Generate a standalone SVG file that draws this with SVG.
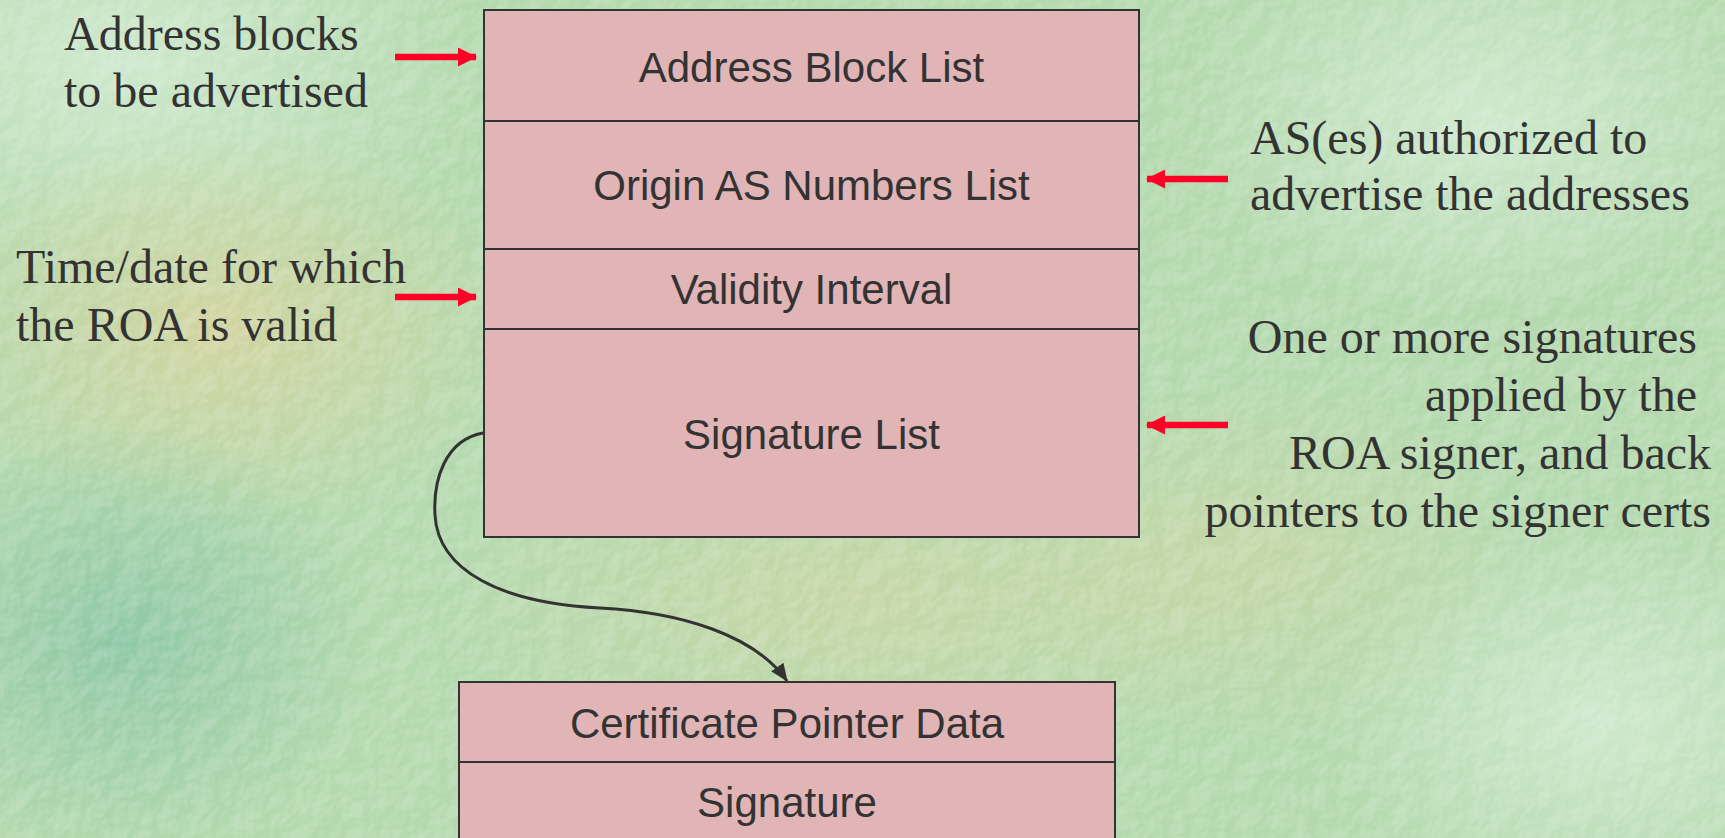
<svg xmlns="http://www.w3.org/2000/svg" width="1725" height="838" viewBox="0 0 1725 838">
  <defs>
    <style>
      .box { fill: #e1b4b6; stroke: #333333; stroke-width: 2; }
      .div { stroke: #333333; stroke-width: 2; }
      .field { font-family: "Liberation Sans", Arial, sans-serif; font-size: 42px; fill: #333333; text-anchor: middle; }
      .note { font-family: "Liberation Serif", "Times New Roman", serif; font-size: 48px; fill: #333333; }
      .pointer { stroke: #ff0026; stroke-width: 6.5; fill: none; }
      .link { stroke: #333333; stroke-width: 3; fill: none; }
    </style>
    <marker id="redHead" viewBox="0 0 19 19" refX="18" refY="9.5" markerUnits="userSpaceOnUse" markerWidth="19" markerHeight="19" orient="auto">
      <path d="M0,0 L19,9.5 L0,19 Z" fill="#ff0026"/>
    </marker>
    <marker id="darkHead" viewBox="0 0 18 15" refX="17" refY="7.5" markerUnits="userSpaceOnUse" markerWidth="18" markerHeight="15" orient="auto">
      <path d="M0,0 L18,7.5 L0,15 Z" fill="#333333"/>
    </marker>
    <radialGradient id="tan" cx="0.5" cy="0.5" r="0.5">
      <stop offset="0" stop-color="#d9d39c" stop-opacity="0.8"/>
      <stop offset="1" stop-color="#d9d39c" stop-opacity="0"/>
    </radialGradient>
    <radialGradient id="teal" cx="0.5" cy="0.5" r="0.5">
      <stop offset="0" stop-color="#86c4a4" stop-opacity="0.8"/>
      <stop offset="1" stop-color="#86c4a4" stop-opacity="0"/>
    </radialGradient>
    <radialGradient id="pale" cx="0.5" cy="0.5" r="0.5">
      <stop offset="0" stop-color="#d4ecd4" stop-opacity="0.8"/>
      <stop offset="1" stop-color="#d4ecd4" stop-opacity="0"/>
    </radialGradient>
    <filter id="grain" x="0" y="0" width="100%" height="100%">
      <feTurbulence type="fractalNoise" baseFrequency="0.045" numOctaves="3" seed="7" result="n"/>
      <feDiffuseLighting in="n" surfaceScale="4" lighting-color="#ffffff" result="lit">
        <feDistantLight azimuth="225" elevation="50"/>
      </feDiffuseLighting>
      <feColorMatrix in="lit" type="matrix" values="0 0 0 0 1  0 0 0 0 1  0 0 0 0 1  1 0 0 0 -0.6"/>
    </filter>
  </defs>

  <!-- backdrop -->
  <g id="backdrop">
    <rect width="1725" height="838" fill="#b4d9ae"/>
    <ellipse cx="120" cy="60" rx="360" ry="220" fill="url(#pale)"/>
    <ellipse cx="220" cy="330" rx="300" ry="200" fill="url(#tan)"/>
    <ellipse cx="120" cy="640" rx="260" ry="220" fill="url(#teal)"/>
    <ellipse cx="860" cy="600" rx="420" ry="180" fill="url(#tan)" opacity="0.6"/>
    <ellipse cx="1480" cy="120" rx="300" ry="200" fill="url(#pale)"/>
    <ellipse cx="1600" cy="720" rx="280" ry="200" fill="url(#pale)"/>
    <ellipse cx="1250" cy="560" rx="260" ry="180" fill="url(#tan)" opacity="0.5"/>
    <rect width="1725" height="838" filter="url(#grain)" opacity="0.5"/>
  </g>

  <!-- route origin attestation fields -->
  <g id="roa">
    <rect class="box" x="484" y="10" width="655" height="527"/>
    <line class="div" x1="484" y1="121" x2="1139" y2="121"/>
    <line class="div" x1="484" y1="249" x2="1139" y2="249"/>
    <line class="div" x1="484" y1="329" x2="1139" y2="329"/>
    <text class="field" x="811.5" y="82">Address Block List</text>
    <text class="field" x="811.5" y="200">Origin AS Numbers List</text>
    <text class="field" x="811.5" y="304">Validity Interval</text>
    <text class="field" x="811.5" y="449">Signature List</text>
  </g>

  <!-- signature entry -->
  <g id="signature-entry">
    <rect class="box" x="459" y="682" width="656" height="170"/>
    <line class="div" x1="459" y1="762" x2="1115" y2="762"/>
    <text class="field" x="787" y="738">Certificate Pointer Data</text>
    <text class="field" x="787" y="817">Signature</text>
  </g>

  <!-- annotations -->
  <g id="note-address">
    <text class="note" x="64" y="50">Address blocks</text>
    <text class="note" x="64" y="107">to be advertised</text>
  </g>
  <g id="note-validity">
    <text class="note" x="16" y="283">Time/date for which</text>
    <text class="note" x="16" y="341">the ROA is valid</text>
  </g>
  <g id="note-origin">
    <text class="note" x="1250" y="154">AS(es) authorized to</text>
    <text class="note" x="1250" y="210">advertise the addresses</text>
  </g>
  <g id="note-signatures" text-anchor="end">
    <text class="note" x="1697" y="353">One or more signatures</text>
    <text class="note" x="1697" y="411">applied by the</text>
    <text class="note" x="1711" y="469">ROA signer, and back</text>
    <text class="note" x="1711" y="527">pointers to the signer certs</text>
  </g>

  <!-- connectors -->
  <g id="connectors">
    <line class="pointer" x1="395" y1="57" x2="476" y2="57" marker-end="url(#redHead)"/>
    <line class="pointer" x1="395" y1="297" x2="476" y2="297" marker-end="url(#redHead)"/>
    <line class="pointer" x1="1228" y1="179" x2="1147" y2="179" marker-end="url(#redHead)"/>
    <line class="pointer" x1="1228" y1="425" x2="1147" y2="425" marker-end="url(#redHead)"/>
    <path class="link" d="M483,433 C445,440 433,480 435,515 C438,570 500,603 600,608 C680,612 755,635 787,681" marker-end="url(#darkHead)"/>
  </g>
</svg>
